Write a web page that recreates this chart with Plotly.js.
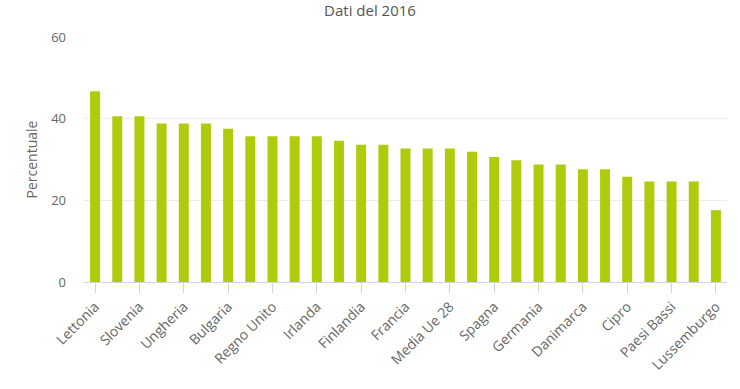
<!DOCTYPE html>
<html>
<head>
<meta charset="utf-8">
<script src="https://cdn.plot.ly/plotly-3.0.1.min.js"></script>
<style>html,body{margin:0;padding:0;background:#fff;}#chart{width:740px;height:389px;}</style>
</head>
<body>
<div id="chart"></div>
<script>
const categories = ["Lettonia","Lituania","Slovenia","Estonia","Ungheria","Polonia","Bulgaria","Croazia","Regno Unito","Belgio","Irlanda","Svezia","Finlandia","Slovacchia","Francia","Austria","Media Ue 28","Grecia","Spagna","Portogallo","Germania","Italia","Danimarca","Rep. Ceca","Cipro","Romania","Paesi Bassi","Malta","Lussemburgo"];
const values = [46.7,40.6,40.6,38.8,38.8,38.8,37.5,35.7,35.7,35.7,35.7,34.6,33.6,33.6,32.7,32.7,32.7,31.9,30.6,29.8,28.8,28.8,27.6,27.6,25.8,24.6,24.6,24.6,17.6];
const shownLabels = categories.filter((c, i) => i % 2 === 0);
const yTicks = [0, 20, 40, 60];

const font = "'Open Sans', 'DejaVu Sans', sans-serif";
Plotly.newPlot('chart', [{
  type: 'bar',
  x: categories,
  y: values,
  marker: {color: '#b0cb0b'},
  hoverinfo: 'x+y'
}], {
  width: 740, height: 389,
  margin: {l: 84, r: 13, t: 37, b: 107},
  paper_bgcolor: '#fff', plot_bgcolor: '#fff',
  bargap: 0.55,
  font: {family: font, color: '#666'},
  title: {text: 'Dati del 2016', x: 0.5, xref: 'container', xanchor: 'center', y: 0.973, yref: 'container', yanchor: 'middle', font: {size: 15, color: '#555', family: font}},
  xaxis: {
    type: 'category',
    tickmode: 'array', tickvals: shownLabels, ticktext: shownLabels,
    tickangle: -45, tickfont: {size: 14, color: '#666'},
    ticks: 'outside', ticklen: 10, tickcolor: '#ccd6eb', tickwidth: 1,
    showline: true, linecolor: '#ccd6eb', linewidth: 1,
    showgrid: false, zeroline: false, fixedrange: true
  },
  yaxis: {
    range: [0, 60], tickvals: yTicks,
    tickfont: {size: 13, color: '#666'},
    ticklabelstandoff: 17,
    showgrid: true, gridcolor: '#ececec', gridwidth: 1,
    zeroline: false, showline: false, fixedrange: true,
    title: {text: 'Percentuale', font: {size: 14, color: '#666'}, standoff: 10}
  },
  showlegend: false
}, {displayModeBar: false, staticPlot: true});
</script>
</body>
</html>
